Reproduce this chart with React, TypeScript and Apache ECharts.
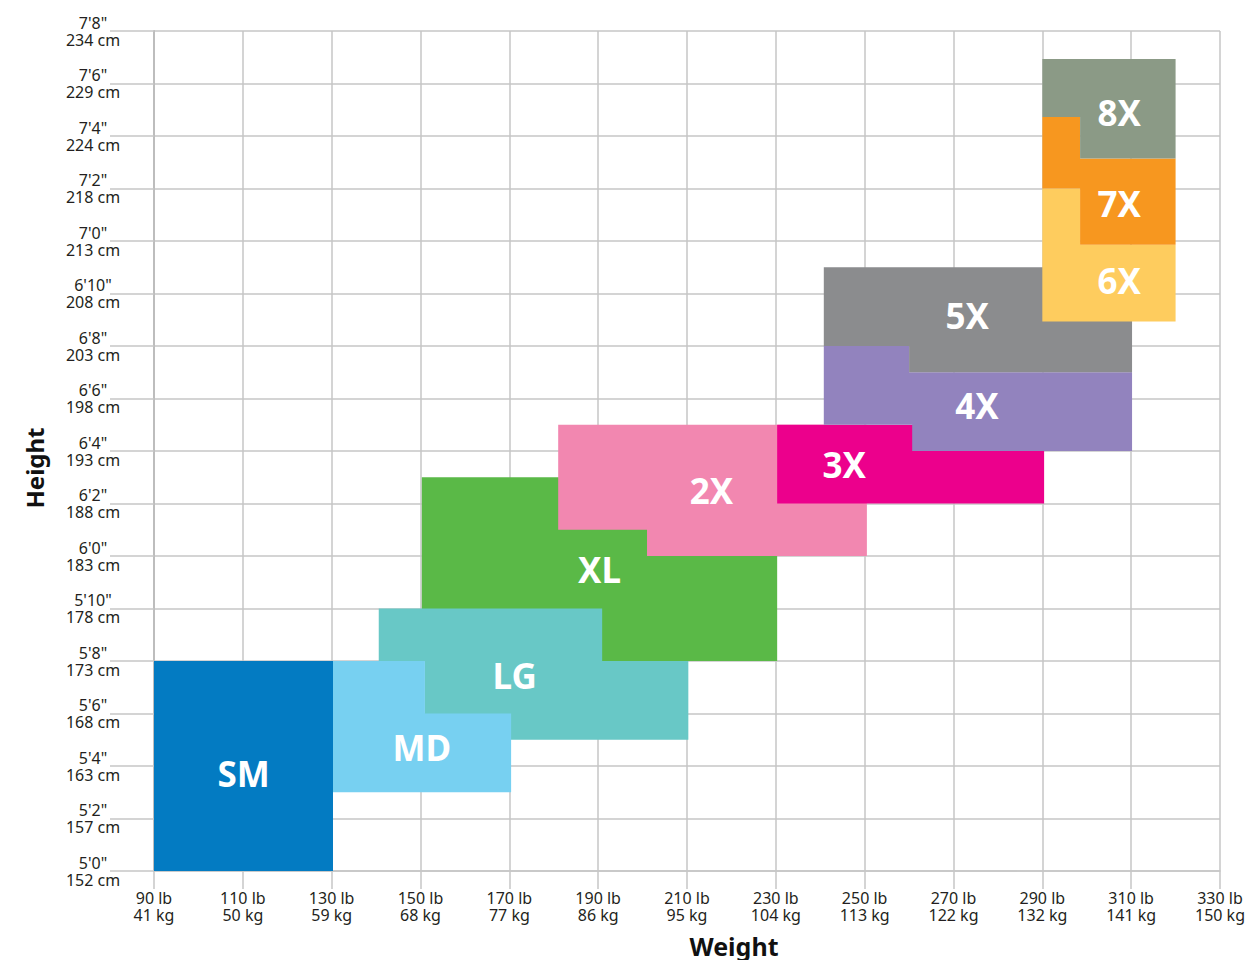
import React, { useEffect, useRef } from 'react';
import * as echarts from 'echarts';

// Axis ticks
const LB_TICKS = [90, 110, 130, 150, 170, 190, 210, 230, 250, 270, 290, 310, 330];
const KG_TICKS = [41, 50, 59, 68, 77, 86, 95, 104, 113, 122, 132, 141, 150];
const FT_TICKS = ["5'0\"", "5'2\"", "5'4\"", "5'6\"", "5'8\"", "5'10\"", "6'0\"", "6'2\"", "6'4\"", "6'6\"", "6'8\"", "6'10\"", "7'0\"", "7'2\"", "7'4\"", "7'6\"", "7'8\""];
const CM_TICKS = [152, 157, 163, 168, 173, 178, 183, 188, 193, 198, 203, 208, 213, 218, 224, 229, 234];
const LB_MIN = 90;
const LB_MAX = 330;
const IN_MIN = 60;
const IN_MAX = 92;

// Sizes in drawing order (later ones on top)
const SIZES = ['XL', 'LG', 'MD', 'SM', '2X', '3X', '4X', '5X', '6X', '7X', '8X'];
const COLORS = ['#5ab947', '#68c8c6', '#77d0f1', '#037bc2', '#f287b0', '#ec008c', '#9283be', '#8b8c8e', '#fecc5e', '#f7971f', '#8b9a86'];
// Outline of each size region, vertices as [weight lb, height in]
const OUTLINES: number[][][] = [
  [[150.3, 68], [230.3, 68], [230.3, 75], [150.3, 75]],
  [[140.6, 70], [190.9, 70], [190.9, 68], [210.3, 68], [210.3, 65], [151, 65], [151, 68], [140.6, 68]],
  [[130, 63], [170.4, 63], [170.4, 66], [151, 66], [151, 68], [130, 68]],
  [[90, 60], [130.3, 60], [130.3, 68], [90, 68]],
  [[181, 77], [250.5, 77], [250.5, 72], [201, 72], [201, 73], [181, 73]],
  [[230.3, 74], [290.4, 74], [290.4, 77], [230.3, 77]],
  [[240.8, 80], [260, 80], [260, 79], [310.2, 79], [310.2, 76], [260.7, 76], [260.7, 77], [240.8, 77]],
  [[240.8, 83], [310.2, 83], [310.2, 79], [260, 79], [260, 80], [240.8, 80]],
  [[290, 86], [298.5, 86], [298.5, 83.86], [320, 83.86], [320, 80.93], [290, 80.93]],
  [[290, 88.72], [298.5, 88.72], [298.5, 87.14], [320, 87.14], [320, 83.86], [298.5, 83.86], [298.5, 86], [290, 86]],
  [[290, 90.93], [320, 90.93], [320, 87.14], [298.5, 87.14], [298.5, 88.72], [290, 88.72]],
];
// Label anchor of each size, [weight lb, height in]
const LABEL_LB = [190.3, 171.2, 150.3, 110.2, 215.5, 245.4, 275.3, 273.1, 307.3, 307.3, 307.3];
const LABEL_IN = [71.47, 67.43, 64.69, 63.73, 74.48, 75.47, 77.75, 81.18, 82.48, 85.41, 88.91];

const FONT = '"Noto Sans", "Open Sans", sans-serif';
const GRID = '#c6c6c6';

export default function App() {
  const ref = useRef<HTMLDivElement>(null);
  useEffect(() => {
    if (!ref.current) return;
    const chart = echarts.init(ref.current, undefined, { renderer: 'svg' });
    chart.setOption({
      animation: false,
      grid: { left: 154, right: 27, top: 31, bottom: 89, containLabel: false },
      xAxis: {
        type: 'value',
        min: 0,
        max: LB_MAX - LB_MIN,
        interval: 20,
        axisLine: { show: true, lineStyle: { color: GRID, width: 1.5 } },
        axisTick: { show: true, length: 18, lineStyle: { color: GRID, width: 1.5 } },
        splitLine: { show: true, lineStyle: { color: GRID, width: 1.5 } },
        axisLabel: {
          margin: 18,
          fontFamily: FONT,
          fontSize: 16,
          lineHeight: 17,
          color: '#231f20',
          formatter: (v: number) => {
            const i = LB_TICKS.indexOf(v + LB_MIN);
            return i < 0 ? '' : `${LB_TICKS[i]} lb\n${KG_TICKS[i]} kg`;
          },
        },
      },
      yAxis: {
        type: 'value',
        min: IN_MIN,
        max: IN_MAX,
        interval: 2,
        axisLine: { show: true, lineStyle: { color: '#bdbdbd', width: 2 } },
        axisTick: { show: true, length: 44, lineStyle: { color: GRID, width: 1.5 } },
        splitLine: { show: true, lineStyle: { color: GRID, width: 1.5 } },
        axisLabel: {
          margin: 61,
          align: 'center',
          fontFamily: FONT,
          fontSize: 16,
          lineHeight: 17,
          color: '#231f20',
          formatter: (v: number) => {
            const i = Math.round((v - IN_MIN) / 2);
            return `${FT_TICKS[i]}\n${CM_TICKS[i]} cm`;
          },
        },
      },
      graphic: [
        {
          type: 'text',
          x: 34,
          y: 468,
          rotation: Math.PI / 2,
          style: { text: 'Height', font: `bold 24px ${FONT}`, fill: '#111', align: 'center', verticalAlign: 'middle' },
        },
        {
          type: 'text',
          x: 734,
          y: 946,
          style: { text: 'Weight', font: `bold 25px ${FONT}`, fill: '#111', align: 'center', verticalAlign: 'middle' },
        },
      ],
      series: [
        {
          type: 'custom',
          clip: false,
          data: SIZES.map((_, i) => [LABEL_LB[i] - LB_MIN, LABEL_IN[i]]),
          renderItem: (params: any, api: any) => {
            const i = params.dataIndex;
            const pts = OUTLINES[i].map(([lb, h]) => api.coord([lb - LB_MIN, h]));
            const c = api.coord([LABEL_LB[i] - LB_MIN, LABEL_IN[i]]);
            return {
              type: 'group',
              children: [
                { type: 'polygon', shape: { points: pts }, style: { fill: COLORS[i] } },
                {
                  type: 'text',
                  x: c[0],
                  y: c[1],
                  z2: 100,
                  style: {
                    text: SIZES[i],
                    fill: '#ffffff',
                    font: `bold 35px ${FONT}`,
                    align: 'center',
                    verticalAlign: 'middle',
                  },
                },
              ],
            };
          },
        },
      ],
    });
    return () => chart.dispose();
  }, []);
  return <div ref={ref} style={{ position: 'absolute', left: 0, top: 0, width: 1248, height: 960 }} />;
}
